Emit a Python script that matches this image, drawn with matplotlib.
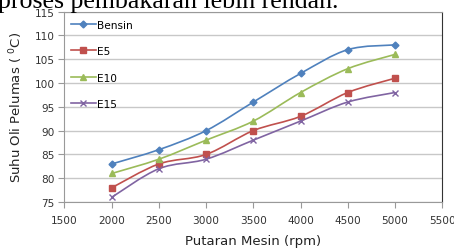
import numpy as np
import matplotlib
matplotlib.use('Agg')
import matplotlib.pyplot as plt
from matplotlib.path import Path
from matplotlib.patches import PathPatch
from matplotlib.lines import Line2D

# Data
rpm = [2000, 2500, 3000, 3500, 4000, 4500, 5000]
bensin = [83, 86, 90, 96, 102, 107, 108]
e5 = [78, 83, 85, 90, 93, 98, 101]
e10 = [81, 84, 88, 92, 98, 103, 106]
e15 = [76, 82, 84, 88, 92, 96, 98]

labels = ['Bensin', 'E5', 'E10', 'E15']
colors = ['#4F81BD', '#C0504D', '#9BBB59', '#8064A2']
markers = ['D', 's', '^', 'x']
msizes = [3.5, 5, 5, 5]


def smooth_path(x, y):
    # Excel-like smoothed line: Catmull-Rom segments as cubic Beziers
    verts = [(x[0], y[0])]
    codes = [Path.MOVETO]
    n = len(x)
    for i in range(n - 1):
        a = max(i - 1, 0)
        b = min(i + 2, n - 1)
        c1 = (x[i] + (x[i + 1] - x[a]) / 6, y[i] + (y[i + 1] - y[a]) / 6)
        c2 = (x[i + 1] - (x[b] - x[i]) / 6, y[i + 1] - (y[b] - y[i]) / 6)
        verts += [c1, c2, (x[i + 1], y[i + 1])]
        codes += [Path.CURVE4] * 3
    return Path(verts, codes)


fig = plt.figure(figsize=(4.54, 2.51), dpi=100)
ax = fig.add_axes([0.142, 0.191, 0.832, 0.759])

handles = []
for vals, lab, c, m, ms in zip([bensin, e5, e10, e15], labels, colors, markers, msizes):
    ax.add_patch(PathPatch(smooth_path(rpm, vals), fill=False, edgecolor=c, lw=1.2, zorder=3))
    ax.plot(rpm, vals, linestyle='none', marker=m, color=c, markersize=ms, mew=1, zorder=4)
    handles.append(Line2D([], [], color=c, lw=1.2, marker=m, markersize=ms, mew=1))

ax.set_xlim(1500, 5500)
ax.set_ylim(75, 115)
ax.set_xticks(range(1500, 5501, 500))
ax.set_yticks(range(75, 116, 5))
ax.grid(axis='y', color='#c8c8c8', lw=1)
ax.set_axisbelow(True)
ax.tick_params(labelsize=7.6, labelcolor='#333333', color='#999999', length=4, width=0.8)
ax.tick_params(axis='x', pad=5)
ax.tick_params(axis='y', pad=3)
for s in ['left', 'bottom', 'top']:
    ax.spines[s].set_color('#999999')
ax.spines['right'].set_color('#333333')

ax.set_xlabel('Putaran Mesin (rpm)', fontsize=9.5, color='#222222', labelpad=7)
ax.set_ylabel('Suhu Oli Pelumas ( $^{0}$C)', fontsize=9.5, color='#222222', labelpad=7)

ax.legend(handles, labels, loc='upper left', frameon=False, fontsize=7.6,
          handlelength=2.4, handletextpad=0.1, labelspacing=1.55,
          borderaxespad=0.2, bbox_to_anchor=(0.0, 0.99))

# cropped caption text from the page above the chart
fig.text(-0.005, 1 - 8 / 251, 'proses pembakaran lebih rendah.', fontsize=18.6,
         family='Liberation Serif', va='baseline', ha='left')

fig.savefig('out.png', dpi=100)
